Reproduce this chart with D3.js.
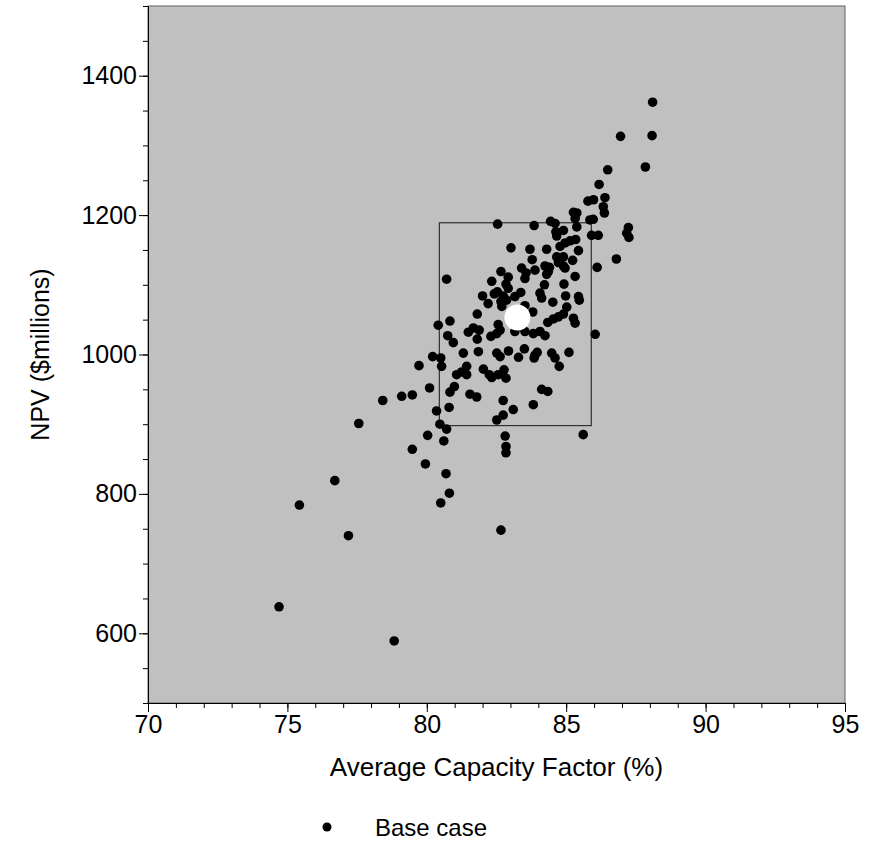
<!DOCTYPE html>
<html>
<head>
<meta charset="utf-8">
<script src="https://cdn.jsdelivr.net/npm/d3@7"></script>
<style>
  body { margin: 0; background: #fff; }
  text { font-family: "Liberation Sans", Arial, sans-serif; }
</style>
</head>
<body>
<div id="chart"></div>
<script>
// Monte Carlo trials: average capacity factor (%) and NPV ($millions)
const capacityFactor = [
  74.70, 78.83, 75.43, 77.19, 76.70, 77.56, 78.42, 79.10, 79.48, 80.10, 80.83, 80.99,
  80.35, 80.80, 80.47, 80.71, 80.03, 80.61, 79.48, 79.95, 80.69, 80.81, 80.50,
  80.83, 80.41, 80.75, 80.95, 81.81, 81.49, 81.67, 81.88, 81.81, 81.31, 81.85, 82.30,
  82.56, 82.63, 82.51, 82.69, 82.66, 82.20, 83.16, 83.52, 83.82, 84.06, 84.24, 83.80,
  83.52, 82.51, 82.63, 82.93, 83.29, 83.50, 83.88, 83.96, 83.85, 84.48, 84.60, 85.10,
  84.75, 84.34, 84.54, 84.72, 84.90, 85.02, 85.26, 85.32, 85.47, 86.04, 80.21, 80.50,
  79.72, 80.53, 81.07, 81.25, 81.43, 81.43, 82.03, 82.24, 82.33, 82.56, 82.77, 82.84,
  81.55, 81.79, 82.74, 83.10, 82.74, 82.51, 83.82, 84.12, 84.34, 82.81, 82.84, 82.84,
  85.61, 84.52,
  86.49, 86.18, 85.78, 85.98, 86.39, 86.33, 86.37, 85.26, 85.38, 85.32, 85.85, 85.97,
  85.38, 84.44, 84.60, 82.54, 83.85, 84.63, 84.90, 84.66, 85.91, 86.15, 87.23, 87.17,
  87.25, 85.34, 85.14, 84.96, 84.78, 83.02, 83.70, 84.30, 85.44, 84.66, 84.90, 83.78,
  86.80, 85.23, 86.11, 84.72, 84.90, 84.96, 80.71, 82.66, 83.40, 83.56, 83.52, 83.88,
  84.24, 84.40, 84.36, 84.30, 85.32, 82.33, 82.92, 82.84, 82.92, 84.22, 84.92, 82.00,
  82.42, 82.53, 82.74, 82.86, 83.16, 83.37, 84.06, 84.12, 84.98, 85.44,
  88.10, 86.95, 88.08, 87.84, 82.66
];
const npv = [
  638, 589, 784, 740, 819, 901, 934, 940, 942, 952, 946, 954,
  919, 924, 900, 893, 884, 876, 864, 843, 829, 801, 787,
  1048, 1042, 1027, 1017, 1058, 1032, 1038, 1035, 1022, 1002, 1004, 1026,
  1043, 1035, 1030, 1069, 1076, 1073, 1033, 1033, 1030, 1033, 1027, 1061,
  1070, 1002, 997, 1005, 996, 1008, 999, 1003, 995, 1002, 995, 1003,
  983, 1046, 1051, 1054, 1058, 1068, 1052, 1045, 1078, 1029, 997, 995,
  984, 983, 971, 975, 983, 971, 979, 971, 967, 971, 978, 966,
  943, 939, 934, 921, 913, 906, 928, 950, 947, 883, 868, 859,
  885, 1075,
  1265, 1244, 1220, 1222, 1225, 1212, 1203, 1204, 1203, 1195, 1193, 1194,
  1183, 1191, 1188, 1187, 1185, 1176, 1178, 1170, 1171, 1171, 1182, 1174,
  1168, 1165, 1163, 1160, 1155, 1153, 1151, 1151, 1149, 1140, 1140, 1136,
  1137, 1135, 1125, 1132, 1127, 1124, 1108, 1119, 1124, 1117, 1109, 1121,
  1127, 1125, 1119, 1115, 1112, 1105, 1111, 1101, 1095, 1100, 1101, 1084,
  1087, 1090, 1084, 1078, 1083, 1089, 1088, 1081, 1084, 1083,
  1362, 1313, 1314, 1269, 748
];

// Base case and the box around it
const baseCase = { cf: 83.25, npv: 1053 };
const boxCf = [80.45, 85.9];
const boxNpv = [898, 1189];

// Axis ticks
const xMajorTicks = [70, 75, 80, 85, 90, 95];
const xMinorTicks = d3.range(70, 96, 1);
const yMajorTicks = [600, 800, 1000, 1200, 1400];
const yMinorTicks = d3.range(500, 1501, 50);

const points = capacityFactor.map((cf, i) => ({ cf, npv: npv[i] }));

const totalWidth = 876, totalHeight = 867;
const margin = { top: 6, right: 31, bottom: 164, left: 148 };
const width = totalWidth - margin.left - margin.right;
const height = totalHeight - margin.top - margin.bottom;

const svg = d3.select("#chart")
    .append("svg")
    .attr("width", totalWidth)
    .attr("height", totalHeight)
    .append("g")
    .attr("transform", "translate(" + margin.left + "," + margin.top + ")");

const x = d3.scaleLinear().domain([70, 95]).range([0, width]);
const y = d3.scaleLinear().domain([500, 1500]).range([height, 0]);

// Gray plot background with a frame
svg.append("rect")
    .attr("width", width)
    .attr("height", height)
    .attr("fill", "#c0c0c0")
    .attr("stroke", "#606060")
    .attr("stroke-width", 1);

// Box around the central trials
svg.append("rect")
    .attr("x", x(boxCf[0]))
    .attr("y", y(boxNpv[1]))
    .attr("width", x(boxCf[1]) - x(boxCf[0]))
    .attr("height", y(boxNpv[0]) - y(boxNpv[1]))
    .attr("fill", "none")
    .attr("stroke", "#303030")
    .attr("stroke-width", 1.2);

// Trial points
svg.selectAll(".trial")
    .data(points)
    .enter()
    .append("circle")
    .attr("class", "trial")
    .attr("cx", d => x(d.cf))
    .attr("cy", d => y(d.npv))
    .attr("r", 4.8)
    .attr("fill", "#000");

// Base case marker
svg.append("circle")
    .attr("cx", x(baseCase.cf))
    .attr("cy", y(baseCase.npv))
    .attr("r", 13)
    .attr("fill", "#fff");

// X axis: minor then major ticks
svg.append("g")
    .attr("transform", "translate(0," + height + ")")
    .call(d3.axisBottom(x).tickValues(xMinorTicks).tickSize(5).tickSizeOuter(0).tickFormat(""))
    .call(g => g.select(".domain").remove());

const xAxis = svg.append("g")
    .attr("transform", "translate(0," + height + ")")
    .call(d3.axisBottom(x).tickValues(xMajorTicks).tickSize(9).tickSizeOuter(0).tickFormat(d3.format("d")));
xAxis.selectAll("text")
    .attr("y", 30)
    .attr("dy", 0)
    .style("font-size", "25px")
    .attr("fill", "#000");

// Y axis: minor then major ticks
svg.append("g")
    .call(d3.axisLeft(y).tickValues(yMinorTicks).tickSize(5).tickSizeOuter(0).tickFormat(""))
    .call(g => g.select(".domain").remove());

const yAxis = svg.append("g")
    .call(d3.axisLeft(y).tickValues(yMajorTicks).tickSize(9).tickSizeOuter(0).tickPadding(2).tickFormat(d3.format("d")));
yAxis.selectAll("text")
    .style("font-size", "25px")
    .attr("fill", "#000");

svg.selectAll(".domain").attr("stroke", "#000");
svg.selectAll(".tick line").attr("stroke", "#000");

// Axis titles
svg.append("text")
    .attr("x", width / 2)
    .attr("y", 776 - margin.top)
    .style("text-anchor", "middle")
    .style("font-size", "26px")
    .text("Average Capacity Factor (%)");

svg.append("text")
    .attr("transform", "rotate(-90)")
    .attr("x", -height / 2)
    .attr("y", 49 - margin.left)
    .style("text-anchor", "middle")
    .style("font-size", "25px")
    .text("NPV ($millions)");

// Legend
const legend = svg.append("g")
    .attr("transform", "translate(" + (327 - margin.left) + "," + (827 - margin.top) + ")");
legend.append("circle")
    .attr("r", 4.5)
    .attr("fill", "#000");
legend.append("text")
    .attr("x", 48)
    .attr("y", 9)
    .style("font-size", "24px")
    .text("Base case");
</script>
</body>
</html>
